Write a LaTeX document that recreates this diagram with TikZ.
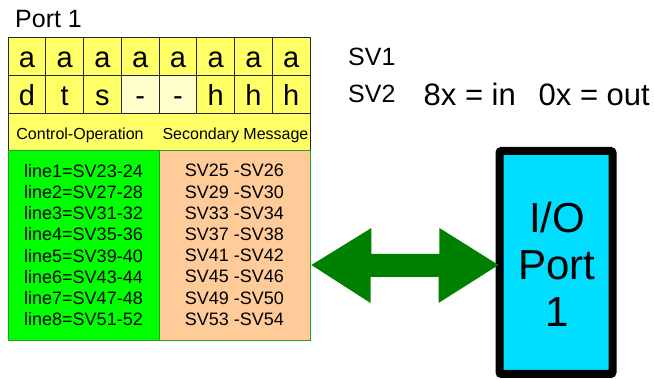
\documentclass[tikz,border=0pt]{standalone}
\usepackage{fontspec}
\setmainfont{Liberation Sans}
\usetikzlibrary{calc}
\definecolor{cyel}{HTML}{FFFF66}
\definecolor{cpale}{HTML}{FFFFCC}
\definecolor{cgreen}{HTML}{00FF00}
\definecolor{cpeach}{HTML}{FFCC99}
\definecolor{ccyan}{HTML}{00DDFF}
\definecolor{carrow}{HTML}{008000}
\definecolor{cgline}{HTML}{22A022}
\tikzset{
  cell/.style={draw=black!85, line width=0.8pt, fill=cyel, minimum width=37.75pt, minimum height=38pt, inner sep=0pt, text height=23pt, text depth=0pt, font=\fontsize{29}{29}\selectfont},
  palecell/.style={cell, fill=cpale},
  labrow/.style={draw=black!85, line width=0.8pt, fill=cyel, minimum width=302pt, minimum height=37pt, inner sep=0pt},
  labtext/.style={font=\fontsize{16}{16}\selectfont, inner sep=0pt},
  bigcell/.style={draw=cgline, line width=0.8pt, minimum width=151pt, minimum height=190pt, inner sep=0pt, align=center, font=\fontsize{18}{21.2}\selectfont},
  plain/.style={inner sep=0pt, anchor=west},
  svtext/.style={plain, font=\fontsize{25}{25}\selectfont},
  dirtext/.style={plain, font=\fontsize{31}{31}\selectfont},
  iobox/.style={draw=black, line width=8pt, fill=ccyan, rounded corners=2pt, minimum width=113pt, minimum height=223pt, inner sep=0pt},
  iotext/.style={align=center, inner sep=0pt, font=\fontsize{42}{47}\selectfont},
  bigarrow/.style={fill=carrow}
}
\begin{document}
\begin{tikzpicture}[x=1pt,y=-1pt]
\useasboundingbox (0,0) rectangle (654,379);
\node[plain, font=\fontsize{25}{25}\selectfont] (title) at (15,19) {Port 1};
% row 1
\node[cell] (a1) at (26.875,56) {a};
\node[cell] (a2) at (64.625,56) {a};
\node[cell] (a3) at (102.375,56) {a};
\node[cell] (a4) at (140.125,56) {a};
\node[cell] (a5) at (177.875,56) {a};
\node[cell] (a6) at (215.625,56) {a};
\node[cell] (a7) at (253.375,56) {a};
\node[cell] (a8) at (291.125,56) {a};
% row 2
\node[cell] (b1) at (26.875,94) {d};
\node[cell] (b2) at (64.625,94) {t};
\node[cell] (b3) at (102.375,94) {s};
\node[palecell] (b4) at (140.125,94) {-};
\node[palecell] (b5) at (177.875,94) {-};
\node[cell] (b6) at (215.625,94) {h};
\node[cell] (b7) at (253.375,94) {h};
\node[cell] (b8) at (291.125,94) {h};
% label row
\node[labrow] (lab) at (159,131.5) {};
\node[labtext] (co) at (80,135) {Control-Operation};
\node[labtext] (sm) at (235.5,135) {Secondary Message};
% green and peach cells
\node[bigcell, fill=cgreen] (ctl) at (83.5,245) {line1=SV23-24\\line2=SV27-28\\line3=SV31-32\\line4=SV35-36\\line5=SV39-40\\line6=SV43-44\\line7=SV47-48\\line8=SV51-52};
\node[bigcell, fill=cpeach] (sec) at (234.5,245) {SV25 -SV26\\SV29 -SV30\\SV33 -SV34\\SV37 -SV38\\SV41 -SV42\\SV45 -SV46\\SV49 -SV50\\SV53 -SV54};
% SV texts
\node[svtext] (sv1) at (348,56.5) {SV1};
\node[svtext] (sv2) at (348,93.5) {SV2};
\node[dirtext] (din) at (423.5,94.5) {8x = in};
\node[dirtext] (dout) at (538.5,94.5) {0x = out};
% I/O port
\node[iobox] (io) at (556,262.5) {};
\node[iotext] (iot) at (557,264) {I/O\\Port\\1};
% double arrow
\coordinate (L) at ([xshift=1pt]sec.east |- io.center);
\coordinate (R) at ([xshift=3pt]io.west);
\fill[bigarrow] ($(L)+(0,2.5)$) -- ++(60,-37) -- ++(0,26) -- ++(68,0) -- ++(0,-26) -- ($(R)+(0,2.5)$) -- ++(-60,38) -- ++(0,-26) -- ++(-68,0) -- ++(0,26) -- cycle;
\end{tikzpicture}
\end{document}
